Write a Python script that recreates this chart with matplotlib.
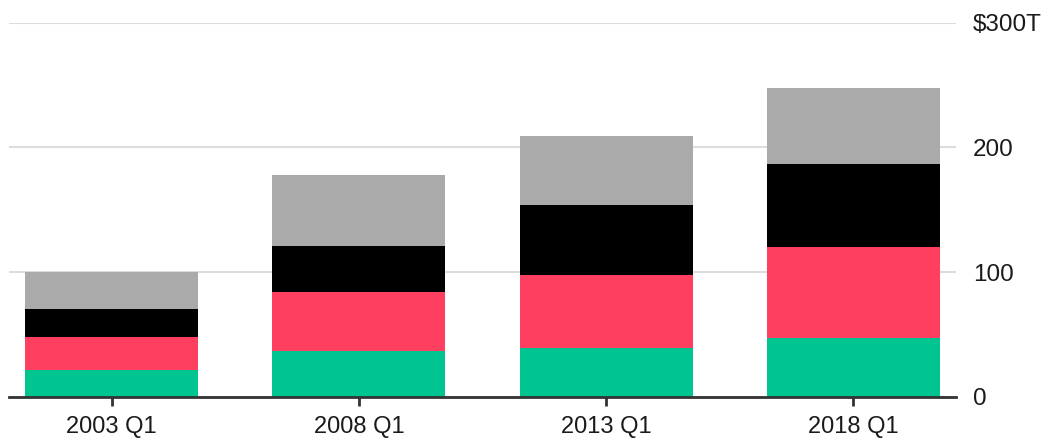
import matplotlib
matplotlib.use("Agg")
import matplotlib.pyplot as plt
from matplotlib.lines import Line2D
import numpy as np

categories = ["2003 Q1", "2008 Q1", "2013 Q1", "2018 Q1"]
green = [21.3, 36.7, 39.3, 47.1]
red = [26.3, 47.5, 58.3, 72.7]
black = [23.1, 36.9, 55.9, 66.6]
gray = [29.2, 57.0, 55.9, 61.2]
series = [green, red, black, gray]
colors = ["#00c590", "#ff3f60", "#000000", "#aaaaaa"]
yticks = [0, 100, 200, 300]
ytick_labels = ["0", "100", "200", "$300T"]

plt.rcParams['font.family'] = ['Liberation Sans', 'DejaVu Sans']

fig = plt.figure(figsize=(10.51, 4.41), dpi=100)
ax = fig.add_axes([0.0086, 0.1005, 0.9010, 0.848])

x = np.arange(len(categories))
bottom = np.zeros(len(categories))
for vals, c in zip(series, colors):
    ax.bar(x, vals, width=0.7, bottom=bottom, color=c, edgecolor="none", zorder=2)
    bottom += np.array(vals)

ax.set_xlim(-0.415, 3.415)
ax.set_ylim(0, 300)
ax.set_yticks(yticks)
ax.set_yticklabels(ytick_labels)
ax.yaxis.tick_right()
ax.tick_params(axis='y', length=0, pad=12, labelsize=17.5, labelcolor="#1a1a1a")
ax.set_xticks(x)
ax.set_xticklabels(categories)
ax.tick_params(axis='x', length=0, pad=14, labelsize=17, labelcolor="#1a1a1a")
ax.grid(axis='y', color="#dddddd", linewidth=1.5, zorder=1)
ax.set_axisbelow(True)
for s in ["top", "right", "left"]:
    ax.spines[s].set_visible(False)
ax.spines["bottom"].set_color("#333333")
ax.spines["bottom"].set_linewidth(2)
ax.spines["bottom"].set_zorder(3)

# tick marks below the baseline, drawn at figure level
fig.canvas.draw()
tick_len = 9 / fig.bbox.height
for xi in x:
    fx, fy = fig.transFigure.inverted().transform(ax.transData.transform((xi, 0)))
    fig.add_artist(Line2D([fx, fx], [fy, fy - tick_len], transform=fig.transFigure,
                          color="#333333", linewidth=2, solid_capstyle="butt", zorder=10))

fig.savefig("out.png", dpi=100)
